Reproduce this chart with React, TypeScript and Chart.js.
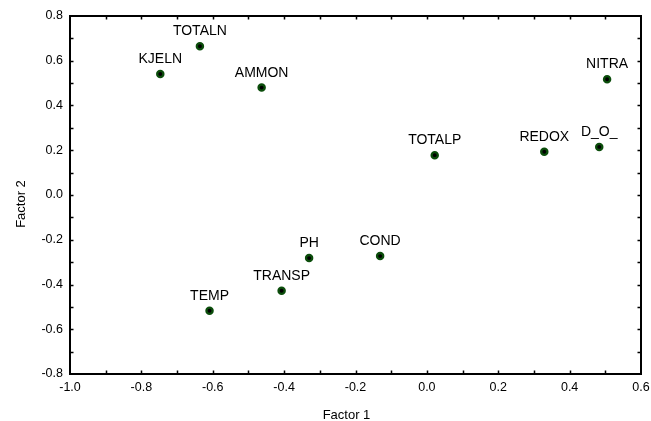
import React, { useEffect, useRef } from "react";
import { Chart, registerables } from "chart.js";

Chart.register(...registerables);

const variableNames = ["KJELN", "TOTALN", "AMMON", "NITRA", "TOTALP", "REDOX", "D_O_", "PH", "COND", "TRANSP", "TEMP"];
const factor1 = [-0.747, -0.636, -0.463, 0.505, 0.022, 0.329, 0.483, -0.330, -0.131, -0.407, -0.609];
const factor2 = [0.541, 0.665, 0.480, 0.517, 0.178, 0.193, 0.215, -0.282, -0.273, -0.428, -0.517];

const xTitle = "Factor 1";
const yTitle = "Factor 2";
const xRange = [-1.0, 0.6];
const yRange = [-0.8, 0.8];

const FONT = "'Liberation Sans', Arial, Helvetica, sans-serif";

const fmt = (v: number) => (Math.abs(v) < 1e-9 ? "0.0" : Number(v).toFixed(1));

const overlayPlugin = {
  id: "overlay",
  afterDraw(chart: any) {
    const { ctx, chartArea } = chart;
    const { left, right, top, bottom } = chartArea;
    const xs = chart.scales.x;
    const ys = chart.scales.y;
    ctx.save();
    ctx.strokeStyle = "#000";
    ctx.lineWidth = 2;
    ctx.strokeRect(left, top, right - left, bottom - top);

    // inward ticks every 0.1
    ctx.lineWidth = 1.5;
    ctx.beginPath();
    const nx = Math.round((xRange[1] - xRange[0]) / 0.1);
    for (let i = 1; i < nx; i++) {
      const px = Math.round(xs.getPixelForValue(xRange[0] + i * 0.1)) + 0.5;
      ctx.moveTo(px, bottom);
      ctx.lineTo(px, bottom - 3.5);
      ctx.moveTo(px, top);
      ctx.lineTo(px, top + 3.5);
    }
    const ny = Math.round((yRange[1] - yRange[0]) / 0.1);
    for (let i = 1; i < ny; i++) {
      const py = Math.round(ys.getPixelForValue(yRange[0] + i * 0.1)) + 0.5;
      ctx.moveTo(left, py);
      ctx.lineTo(left + 3.5, py);
      ctx.moveTo(right, py);
      ctx.lineTo(right - 3.5, py);
    }
    ctx.stroke();

    // point labels
    const meta = chart.getDatasetMeta(0);
    ctx.fillStyle = "#000";
    ctx.font = `14px ${FONT}`;
    ctx.textAlign = "center";
    ctx.textBaseline = "alphabetic";
    meta.data.forEach((el: any, i: number) => {
      ctx.fillText(variableNames[i], el.x, el.y - 11);
    });

    // axis titles
    ctx.font = `13px ${FONT}`;
    ctx.textBaseline = "middle";
    ctx.fillText(xTitle, (left + right) / 2 - 9, bottom + 41);
    ctx.translate(left - 49, (top + bottom) / 2 + 9);
    ctx.rotate(-Math.PI / 2);
    ctx.fillText(yTitle, 0, 0);
    ctx.restore();
  },
};

export default function App() {
  const canvasRef = useRef<HTMLCanvasElement | null>(null);

  useEffect(() => {
    if (!canvasRef.current) return;
    const chart = new Chart(canvasRef.current, {
      type: "scatter",
      data: {
        datasets: [
          {
            data: factor1.map((x, i) => ({ x, y: factor2[i] })),
            backgroundColor: "#000000",
            borderColor: "#0b4d0b",
            borderWidth: 2.3,
            pointRadius: 3.1,
            pointHoverRadius: 3.1,
          },
        ],
      },
      options: {
        animation: false,
        responsive: false,
        maintainAspectRatio: false,
        layout: { padding: { left: 0, top: 16, right: 10, bottom: 0 } },
        plugins: {
          legend: { display: false },
          tooltip: { enabled: false },
          title: { display: false },
        },
        scales: {
          x: {
            type: "linear",
            min: xRange[0],
            max: xRange[1],
            grid: { display: false, drawTicks: false },
            border: { display: false },
            ticks: {
              stepSize: 0.2,
              callback: (v: any) => fmt(v),
              color: "#000",
              font: { size: 12.5, family: FONT },
              padding: 6,
              maxRotation: 0,
            },
            afterFit: (s: any) => {
              s.height = 47;
              s.paddingLeft = 0;
              s.paddingRight = 0;
            },
          },
          y: {
            type: "linear",
            min: yRange[0],
            max: yRange[1],
            grid: { display: false, drawTicks: false },
            border: { display: false },
            ticks: {
              stepSize: 0.2,
              callback: (v: any) => fmt(v),
              color: "#000",
              font: { size: 12.5, family: FONT },
              padding: 7,
            },
            afterFit: (s: any) => {
              s.width = 70;
              s.paddingTop = 0;
              s.paddingBottom = 0;
            },
          },
        },
      },
      plugins: [overlayPlugin],
    });
    return () => chart.destroy();
  }, []);

  return (
    <div style={{ position: "fixed", left: 0, top: 0, width: 651, height: 421, background: "#fff" }}>
      <canvas ref={canvasRef} width={651} height={421} style={{ display: "block" }} />
    </div>
  );
}
